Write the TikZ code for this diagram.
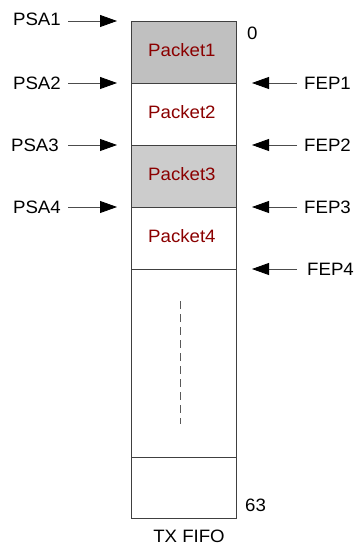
\documentclass[tikz,border=0pt]{standalone}
\usepackage{fontspec}
\setmainfont{Liberation Sans}
\usetikzlibrary{arrows.meta}
\definecolor{pktred}{HTML}{8B0000}
\definecolor{gray1}{HTML}{C0C0C0}
\definecolor{gray3}{HTML}{CCCCCC}
\newcommand{\wide}[1]{\scalebox{1.04}[1]{#1}}
\begin{document}
\begin{tikzpicture}[x=1bp,y=-1bp,
  lbl/.style={font=\fontsize{18}{21}\selectfont, inner sep=0pt, text=black},
  pkt/.style={font=\fontsize{18}{21}\selectfont, inner sep=0pt, text=pktred, anchor=west},
  cell/.style={draw=black!75, line width=0.8bp, rectangle, minimum width=105bp, inner sep=0pt, anchor=north west},
  arr/.style={draw=black!70, line width=0.8bp, -{Triangle[length=17bp,width=12bp,color=black]}}
]
\useasboundingbox (0,0) rectangle (355,545);
% cells
\node[cell, fill=gray1, minimum height=62bp] (c1) at (131,21) {};
\node[cell, fill=white, minimum height=62bp] (c2) at (131,83) {};
\node[cell, fill=gray3, minimum height=62bp] (c3) at (131,145) {};
\node[cell, fill=white, minimum height=62bp] (c4) at (131,207) {};
\node[cell, fill=white, minimum height=188bp] (c5) at (131,269) {};
\node[cell, fill=white, minimum height=61bp] (c6) at (131,457) {};
% packet labels
\node[pkt] (p1) at (148,50) {\wide{Packet1}};
\node[pkt] (p2) at (148,112) {\wide{Packet2}};
\node[pkt] (p3) at (148,174) {\wide{Packet3}};
\node[pkt] (p4) at (148,236) {\wide{Packet4}};
% dashed line
\coordinate (d1) at (180,301);
\coordinate (d2) at (180,424);
\draw[draw=black!65, line width=0.9bp, dash pattern=on 8bp off 5bp] (d1) -- (d2);
% index labels
\node[lbl, anchor=west] (i0) at (247,33) {\wide{0}};
\node[lbl, anchor=west] (i63) at (245,505) {\wide{63}};
\node[lbl] (title) at (189,536) {\wide{TX FIFO}};
% PSA labels
\node[lbl, anchor=east] (psa1) at (61,19) {\wide{PSA1}};
\node[lbl, anchor=east] (psa2) at (61,83) {\wide{PSA2}};
\node[lbl, anchor=east] (psa3) at (59,145) {\wide{PSA3}};
\node[lbl, anchor=east] (psa4) at (61,207) {\wide{PSA4}};
\coordinate (t1) at (117,21);
\coordinate (t2) at (117,83);
\coordinate (t3) at (117,145);
\coordinate (t4) at (117,207);
\draw[arr, shorten <=7bp] (psa1.east |- t1) -- (t1);
\draw[arr, shorten <=7bp] (psa2.east |- t2) -- (t2);
\draw[arr, shorten <=9bp] (psa3.east |- t3) -- (t3);
\draw[arr, shorten <=7bp] (psa4.east |- t4) -- (t4);
% FEP labels
\node[lbl, anchor=west] (fep1) at (304,83) {\wide{FEP1}};
\node[lbl, anchor=west] (fep2) at (304,145) {\wide{FEP2}};
\node[lbl, anchor=west] (fep3) at (304,207) {\wide{FEP3}};
\node[lbl, anchor=west] (fep4) at (307,269) {\wide{FEP4}};
\coordinate (f1) at (252,83);
\coordinate (f2) at (252,145);
\coordinate (f3) at (252,207);
\coordinate (f4) at (252,269);
\draw[arr, shorten <=7bp] (fep1.west |- f1) -- (f1);
\draw[arr, shorten <=7bp] (fep2.west |- f2) -- (f2);
\draw[arr, shorten <=7bp] (fep3.west |- f3) -- (f3);
\draw[arr, shorten <=10bp] (fep4.west |- f4) -- (f4);
\end{tikzpicture}
\end{document}
